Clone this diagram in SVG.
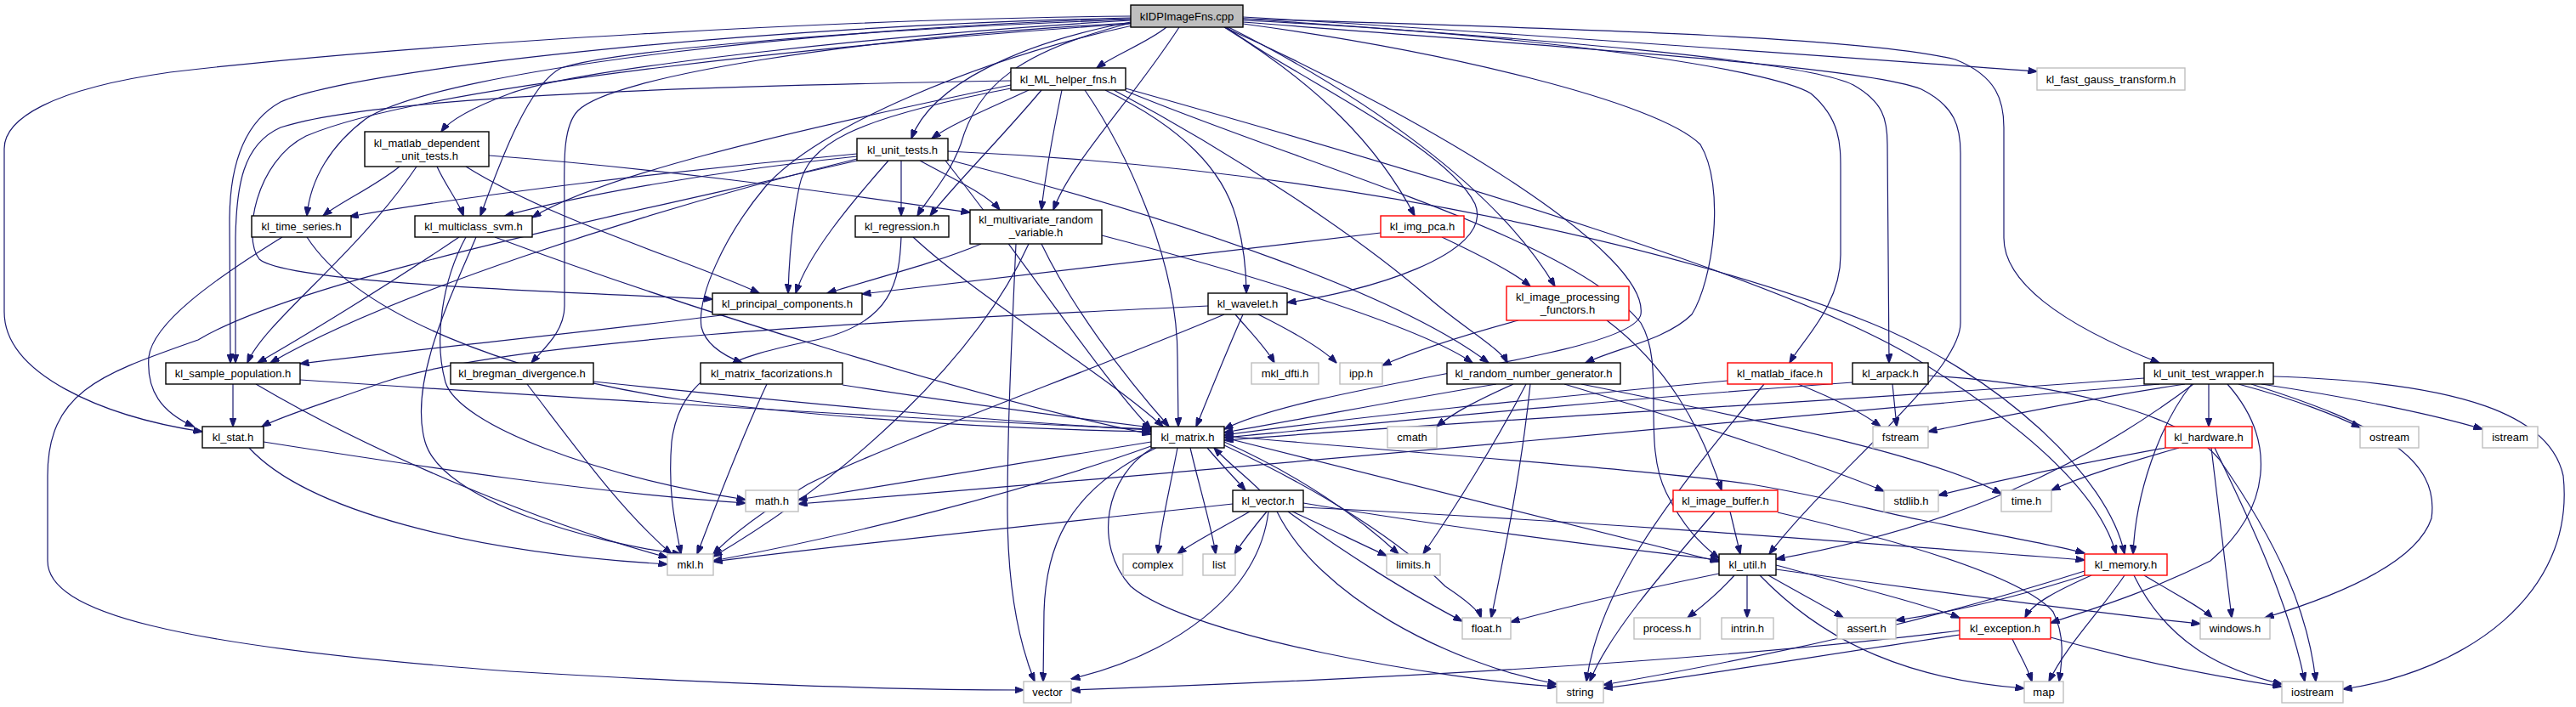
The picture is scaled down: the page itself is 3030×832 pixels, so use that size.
<svg xmlns="http://www.w3.org/2000/svg" width="3030" height="832" viewBox="0 0 3030 832">
<defs>
<marker id="a" markerWidth="11" markerHeight="8" refX="10.5" refY="4" orient="auto" markerUnits="userSpaceOnUse"><path d="M0,0L11,4L0,8z" fill="#191970" stroke="#191970" stroke-width="1"/></marker>
<style>
.e path{fill:none;stroke:#191970;stroke-width:1.2;marker-end:url(#a)}
.node rect{fill:#ffffff;stroke:#000000;stroke-width:1.4}
.node.g rect{stroke:#bfbfbf}
.node.r rect{stroke:#ff0000}
.node.root rect{fill:#bfbfbf}
.node text{font-family:"Liberation Sans",Arial,sans-serif;font-size:13px;text-anchor:middle;fill:#000000}
</style>
</defs>
<rect width="3030" height="832" fill="#ffffff"/>
<g id="edges" class="e">
<!-- root -->
<path d="M1372,32 C1350,50 1310,65 1290,80"/>
<path d="M1462,20 C1800,40 2200,70 2396,84"/>
<path d="M1330,24 C1050,40 680,80 600,110 C560,125 530,140 519,155"/>
<path d="M1330,26 C1200,50 1095,100 1072,163"/>
<path d="M1330,22 C1000,30 520,80 430,140 C390,170 365,210 361,254"/>
<path d="M1330,23 C1000,35 720,60 660,80 C620,100 585,200 565,254"/>
<path d="M1330,27 C1200,60 1150,100 1130,170 C1115,210 1090,235 1079,254"/>
<path d="M1387,32 C1330,120 1260,190 1239,247"/>
<path d="M1440,32 C1550,100 1620,170 1664,254"/>
<path d="M1445,32 C1600,110 1760,220 1829,337"/>
<path d="M1440,30 C1520,90 1700,170 1735,240 C1760,300 1600,345 1514,356"/>
<path d="M1330,21 C900,30 420,80 330,120 C285,145 270,200 270,260 L271,427"/>
<path d="M1330,19 C1000,22 500,50 200,85 C60,105 5,140 5,175 L5,367 C5,440 120,490 238,508"/>
<path d="M1330,27 C1000,45 720,90 680,130 C660,150 664,200 664,250 L664,360 C664,390 640,410 625,427"/>
<path d="M1332,30 C1150,70 960,150 900,220 C850,280 820,350 825,385 C830,405 850,418 873,427"/>
<path d="M1330,28 C1000,50 500,100 360,160 C300,190 285,280 305,305 C340,335 700,345 838,352"/>
<path d="M1462,28 C1700,60 1950,120 2000,170 C2030,220 2015,330 1990,370 C1960,400 1900,410 1865,427"/>
<path d="M1462,24 C1800,40 2080,80 2130,110 C2165,140 2165,170 2165,200 L2165,300 C2165,360 2120,400 2105,427"/>
<path d="M1462,22 C1800,45 2120,70 2180,100 C2215,120 2220,140 2220,170 L2222,427"/>
<path d="M1462,26 C1900,60 2200,80 2260,105 C2300,125 2306,150 2306,180 L2306,380 C2306,440 2150,560 2081,652"/>
<path d="M1462,22 C1900,35 2200,45 2300,70 C2350,90 2357,120 2357,150 L2357,280 C2357,330 2420,380 2540,427"/>
<path d="M1440,32 C1700,150 1940,300 1930,370 C1920,420 1550,450 1440,505"/>
<!-- ML helper -->
<path d="M1210,106 C1170,125 1120,145 1096,163"/>
<path d="M1225,106 C1180,160 1120,220 1094,254"/>
<path d="M1249,106 C1240,150 1230,200 1225,247"/>
<path d="M1276,106 C1320,170 1385,300 1385,420 L1386,502"/>
<path d="M1300,106 C1390,150 1440,200 1455,260 C1463,290 1466,320 1466,345"/>
<path d="M1310,106 C1450,180 1600,280 1680,350 C1720,385 1765,410 1773,427"/>
<path d="M1324,104 C1700,210 2100,330 2250,420 C2380,500 2470,580 2489,652"/>
<path d="M1324,107 C1550,200 1850,280 1930,380 C1960,430 1930,520 1960,580 C1980,620 2000,640 2022,657"/>
<path d="M1189,95 C900,100 450,110 330,150 C285,170 278,220 277,280 L277,427"/>
<path d="M1189,104 C1000,140 950,170 940,220 C930,270 928,310 927,345"/>
<path d="M1189,100 C900,160 700,210 626,256"/>
<!-- unit tests -->
<path d="M1008,181 C800,200 550,230 411,255"/>
<path d="M1008,184 C850,200 680,230 594,254"/>
<path d="M1060,189 L1060,254"/>
<path d="M1082,189 C1120,210 1160,228 1176,247"/>
<path d="M1045,189 C1000,240 950,300 936,345"/>
<path d="M1008,187 C750,250 450,350 318,427"/>
<path d="M1115,188 C1400,260 1650,350 1751,427"/>
<path d="M1115,178 C1600,200 2000,300 2200,380 C2350,440 2480,560 2499,652"/>
<path d="M1008,189 C700,260 350,330 233,400 C120,440 56,460 56,560 L56,660 C56,720 200,760 600,790 C900,808 1100,812 1204,812"/>
<path d="M1112,189 C1200,300 1300,450 1354,505"/>
<!-- matlab dependent -->
<path d="M470,196 C440,220 400,238 380,254"/>
<path d="M514,196 C525,220 540,238 545,254"/>
<path d="M490,196 C420,300 310,380 291,427"/>
<path d="M548,196 C650,260 820,310 893,345"/>
<path d="M575,183 C800,200 1000,230 1141,250"/>
<!-- time series -->
<path d="M332,279 C250,330 180,380 175,420 C172,460 190,485 228,502"/>
<path d="M361,279 C420,370 600,440 800,470 C1000,495 1200,505 1354,508"/>
<!-- multiclass svm -->
<path d="M540,279 C450,340 350,400 303,427"/>
<path d="M582,279 C800,360 1150,470 1354,511"/>
<path d="M548,279 C520,330 510,400 524,450 C540,500 700,560 877,588"/>
<path d="M560,279 C530,350 480,450 500,520 C520,590 700,640 801,652"/>
<!-- regression -->
<path d="M1074,279 C1150,350 1300,440 1368,502"/>
<path d="M1060,279 C1058,330 1050,380 960,400 C860,420 800,440 790,520 C785,580 795,620 801,652"/>
<!-- multivariate -->
<path d="M1154,287 C1100,310 1020,330 973,345"/>
<path d="M1296,277 C1500,330 1680,390 1732,427"/>
<path d="M1225,287 C1260,360 1320,440 1375,502"/>
<path d="M1210,287 C1150,420 1000,560 839,655"/>
<path d="M1195,287 C1190,400 1185,500 1185,600 C1185,700 1200,760 1217,802"/>
<!-- img pca -->
<path d="M1624,274 C1400,300 1200,325 1014,346"/>
<path d="M1696,279 C1740,300 1780,320 1800,337"/>
<!-- principal components -->
<path d="M856,370 C700,390 500,410 353,428"/>
<!-- wavelet -->
<path d="M1421,360 C1000,380 600,400 450,450 C380,475 330,490 308,502"/>
<path d="M1453,370 C1470,390 1490,410 1499,427"/>
<path d="M1480,370 C1520,390 1555,410 1572,427"/>
<path d="M1462,370 C1440,420 1420,470 1407,502"/>
<path d="M1440,370 C1300,430 1050,520 950,570 C900,600 860,630 839,652"/>
<!-- image processing functors -->
<path d="M1786,377 C1720,395 1660,415 1626,430"/>
<path d="M1890,377 C1960,430 2000,500 2025,577"/>
<!-- sample population -->
<path d="M274,452 L274,502"/>
<path d="M353,447 C700,470 1100,495 1354,505"/>
<path d="M301,452 C450,540 650,620 785,656"/>
<!-- stat -->
<path d="M310,520 C500,550 700,580 877,592"/>
<path d="M293,527 C360,600 550,650 785,664"/>
<!-- bregman -->
<path d="M698,449 C900,470 1150,495 1354,506"/>
<path d="M620,452 C680,530 730,600 790,652"/>
<!-- matrix facorizations -->
<path d="M991,453 C1100,470 1250,490 1354,503"/>
<path d="M902,452 C870,520 840,600 820,652"/>
<!-- random number generator -->
<path d="M1760,452 C1650,470 1550,490 1440,509"/>
<path d="M1780,452 C1740,470 1710,485 1690,502"/>
<path d="M1795,452 C1760,520 1710,600 1674,652"/>
<path d="M1800,452 C1790,550 1770,650 1754,727"/>
<path d="M1840,452 C2000,500 2150,550 2216,578"/>
<path d="M1860,452 C2100,500 2280,540 2354,581"/>
<!-- matlab iface -->
<path d="M2032,448 C1800,470 1600,490 1440,512"/>
<path d="M2115,452 C2160,470 2190,485 2212,502"/>
<path d="M2075,452 C1950,600 1880,700 1866,802"/>
<!-- arpack -->
<path d="M2179,450 C1900,470 1650,495 1440,515"/>
<path d="M2226,452 L2231,502"/>
<path d="M2268,442 C2400,450 2560,480 2610,540 C2680,640 2715,720 2724,802"/>
<!-- unit test wrapper -->
<path d="M2522,445 C2200,470 1800,490 1440,518"/>
<path d="M2540,452 C2200,480 1600,540 939,593"/>
<path d="M2570,452 C2450,470 2330,495 2268,508"/>
<path d="M2598,452 L2598,502"/>
<path d="M2633,452 C2700,470 2750,490 2776,503"/>
<path d="M2660,452 C2780,470 2870,490 2920,505"/>
<path d="M2674,443 C2900,450 3000,490 3015,560 C3030,700 2900,790 2756,811"/>
<path d="M2648,452 C2800,500 2870,540 2860,610 C2840,670 2720,710 2664,727"/>
<path d="M2578,452 C2540,500 2512,580 2509,652"/>
<path d="M2620,452 C2680,520 2670,600 2600,660 C2520,700 2450,720 2412,733"/>
<path d="M2580,452 C2450,550 2300,620 2089,658"/>
<!-- hardware -->
<path d="M2547,527 C2450,545 2350,565 2280,583"/>
<path d="M2563,527 C2500,545 2450,560 2413,577"/>
<path d="M2601,527 L2625,727"/>
<path d="M2605,527 C2640,600 2690,700 2711,802"/>
<!-- matrix -->
<path d="M1420,527 C1435,545 1450,560 1465,577"/>
<path d="M1482,577 C1465,560 1445,545 1428,527"/>
<path d="M1354,520 C1200,545 1050,570 939,588"/>
<path d="M1354,525 C1200,580 1000,630 839,660"/>
<path d="M1360,527 C1250,580 1230,650 1228,720 L1227,802"/>
<path d="M1385,527 C1375,580 1365,620 1362,652"/>
<path d="M1400,527 C1410,570 1425,620 1430,652"/>
<path d="M1440,520 C1530,560 1600,610 1645,652"/>
<path d="M1440,524 C1560,580 1650,640 1700,690 C1730,710 1740,720 1742,727"/>
<path d="M1356,527 C1300,560 1285,640 1330,690 C1400,750 1700,800 1831,808"/>
<path d="M1440,515 C1700,580 1900,630 2022,661"/>
<path d="M1440,513 C1750,540 1960,555 2060,570 C2150,585 2200,600 2260,612 C2350,630 2420,642 2452,651"/>
<!-- vector.h -->
<path d="M1450,593 C1200,620 1000,640 839,661"/>
<path d="M1470,602 C1430,625 1400,640 1385,652"/>
<path d="M1490,602 C1475,620 1460,640 1452,652"/>
<path d="M1520,602 C1560,620 1600,640 1631,654"/>
<path d="M1515,602 C1580,650 1660,700 1720,731"/>
<path d="M1502,602 C1550,700 1700,780 1831,805"/>
<path d="M1492,602 C1480,700 1380,770 1260,799"/>
<path d="M1533,592 C1700,620 1900,645 2022,659"/>
<path d="M1533,597 C1900,615 2200,640 2452,659"/>
<!-- image buffer -->
<path d="M2035,602 L2047,652"/>
<path d="M2017,602 C1950,680 1890,750 1870,802"/>
<path d="M2091,603 C2250,640 2380,680 2415,720 C2430,750 2425,780 2422,802"/>
<!-- util -->
<path d="M2022,675 C1900,700 1820,720 1777,732"/>
<path d="M2040,677 C2020,700 2000,715 1985,727"/>
<path d="M2055,677 L2055,727"/>
<path d="M2080,677 C2120,700 2150,715 2168,727"/>
<path d="M2089,665 C2180,690 2260,710 2305,727"/>
<path d="M2089,670 C2300,700 2500,725 2588,734"/>
<path d="M2070,677 C2150,760 2250,800 2381,810"/>
<!-- memory -->
<path d="M2452,677 C2380,700 2300,720 2230,730"/>
<path d="M2460,677 C2420,695 2390,710 2382,727"/>
<path d="M2499,677 C2470,720 2430,760 2410,802"/>
<path d="M2522,677 C2560,700 2590,715 2602,727"/>
<path d="M2510,677 C2550,760 2620,790 2684,805"/>
<path d="M2452,672 C2300,720 2150,760 1886,806"/>
<!-- exception -->
<path d="M2367,752 C2375,770 2385,785 2390,802"/>
<path d="M2412,750 C2500,775 2600,795 2684,808"/>
<path d="M2305,747 C2150,770 2000,795 1886,810"/>
<path d="M2305,742 C2000,780 1600,800 1260,812"/>
</g>
<g id="n_root" class="node root"><rect x="1330" y="6" width="132" height="26"/><text x="1396" y="23.5">kIDPImageFns.cpp</text></g>
<g id="n_ml" class="node"><rect x="1189" y="80" width="135" height="26"/><text x="1256.5" y="97.5">kl_ML_helper_fns.h</text></g>
<g id="n_fgt" class="node g"><rect x="2396" y="80" width="174" height="26"/><text x="2483" y="97.5">kl_fast_gauss_transform.h</text></g>
<g id="n_mdut" class="node"><rect x="429" y="155" width="146" height="41"/><text x="502" y="172.5">kl_matlab_dependent</text><text x="502" y="187.5">_unit_tests.h</text></g>
<g id="n_ut" class="node"><rect x="1008" y="163" width="107" height="26"/><text x="1061.5" y="180.5">kl_unit_tests.h</text></g>
<g id="n_ts" class="node"><rect x="296" y="254" width="117" height="25"/><text x="354.5" y="271">kl_time_series.h</text></g>
<g id="n_svm" class="node"><rect x="488" y="254" width="138" height="25"/><text x="557" y="271">kl_multiclass_svm.h</text></g>
<g id="n_reg" class="node"><rect x="1006" y="254" width="110" height="25"/><text x="1061" y="271">kl_regression.h</text></g>
<g id="n_mrv" class="node"><rect x="1141" y="247" width="155" height="40"/><text x="1218.5" y="263">kl_multivariate_random</text><text x="1218.5" y="278">_variable.h</text></g>
<g id="n_pca" class="node r"><rect x="1624" y="254" width="98" height="25"/><text x="1673" y="271">kl_img_pca.h</text></g>
<g id="n_pc" class="node"><rect x="838" y="345" width="176" height="25"/><text x="926" y="362">kl_principal_components.h</text></g>
<g id="n_wav" class="node"><rect x="1421" y="345" width="93" height="25"/><text x="1467.5" y="362">kl_wavelet.h</text></g>
<g id="n_ipf" class="node r"><rect x="1772" y="337" width="144" height="40"/><text x="1844" y="353.5">kl_image_processing</text><text x="1844" y="368.5">_functors.h</text></g>
<g id="n_sp" class="node"><rect x="195" y="427" width="158" height="25"/><text x="274" y="444">kl_sample_population.h</text></g>
<g id="n_bd" class="node"><rect x="530" y="427" width="168" height="25"/><text x="614" y="444">kl_bregman_divergence.h</text></g>
<g id="n_mf" class="node"><rect x="824" y="427" width="167" height="25"/><text x="907.5" y="444">kl_matrix_facorizations.h</text></g>
<g id="n_dfti" class="node g"><rect x="1472" y="427" width="79" height="25"/><text x="1511.5" y="444">mkl_dfti.h</text></g>
<g id="n_ipp" class="node g"><rect x="1576" y="427" width="50" height="25"/><text x="1601" y="444">ipp.h</text></g>
<g id="n_rng" class="node"><rect x="1702" y="427" width="204" height="25"/><text x="1804" y="444">kl_random_number_generator.h</text></g>
<g id="n_mi" class="node r"><rect x="2032" y="427" width="123" height="25"/><text x="2093.5" y="444">kl_matlab_iface.h</text></g>
<g id="n_arp" class="node"><rect x="2179" y="427" width="89" height="25"/><text x="2223.5" y="444">kl_arpack.h</text></g>
<g id="n_utw" class="node"><rect x="2522" y="427" width="152" height="25"/><text x="2598" y="444">kl_unit_test_wrapper.h</text></g>
<g id="n_stat" class="node"><rect x="238" y="502" width="72" height="25"/><text x="274" y="519">kl_stat.h</text></g>
<g id="n_mat" class="node"><rect x="1354" y="502" width="86" height="25"/><text x="1397" y="519">kl_matrix.h</text></g>
<g id="n_cmath" class="node g"><rect x="1632" y="502" width="58" height="25"/><text x="1661" y="519">cmath</text></g>
<g id="n_fstream" class="node g"><rect x="2203" y="502" width="65" height="25"/><text x="2235.5" y="519">fstream</text></g>
<g id="n_hw" class="node r"><rect x="2547" y="502" width="102" height="25"/><text x="2598" y="519">kl_hardware.h</text></g>
<g id="n_ostream" class="node g"><rect x="2776" y="502" width="69" height="25"/><text x="2810.5" y="519">ostream</text></g>
<g id="n_istream" class="node g"><rect x="2920" y="502" width="65" height="25"/><text x="2952.5" y="519">istream</text></g>
<g id="n_math" class="node g"><rect x="877" y="577" width="62" height="25"/><text x="908" y="594">math.h</text></g>
<g id="n_vec" class="node"><rect x="1450" y="577" width="83" height="25"/><text x="1491.5" y="594">kl_vector.h</text></g>
<g id="n_ib" class="node r"><rect x="1968" y="577" width="123" height="25"/><text x="2029.5" y="594">kl_image_buffer.h</text></g>
<g id="n_stdlib" class="node g"><rect x="2216" y="577" width="64" height="25"/><text x="2248" y="594">stdlib.h</text></g>
<g id="n_time" class="node g"><rect x="2354" y="577" width="59" height="25"/><text x="2383.5" y="594">time.h</text></g>
<g id="n_mkl" class="node g"><rect x="785" y="652" width="54" height="25"/><text x="812" y="669">mkl.h</text></g>
<g id="n_complex" class="node g"><rect x="1321" y="652" width="70" height="25"/><text x="1356" y="669">complex</text></g>
<g id="n_list" class="node g"><rect x="1415" y="652" width="38" height="25"/><text x="1434" y="669">list</text></g>
<g id="n_limits" class="node g"><rect x="1631" y="652" width="63" height="25"/><text x="1662.5" y="669">limits.h</text></g>
<g id="n_util" class="node"><rect x="2022" y="652" width="67" height="25"/><text x="2055.5" y="669">kl_util.h</text></g>
<g id="n_mem" class="node r"><rect x="2452" y="652" width="97" height="25"/><text x="2500.5" y="669">kl_memory.h</text></g>
<g id="n_float" class="node g"><rect x="1720" y="727" width="57" height="25"/><text x="1748.5" y="744">float.h</text></g>
<g id="n_process" class="node g"><rect x="1922" y="727" width="78" height="25"/><text x="1961" y="744">process.h</text></g>
<g id="n_intrin" class="node g"><rect x="2025" y="727" width="61" height="25"/><text x="2055.5" y="744">intrin.h</text></g>
<g id="n_assert" class="node g"><rect x="2161" y="727" width="69" height="25"/><text x="2195.5" y="744">assert.h</text></g>
<g id="n_exc" class="node r"><rect x="2305" y="727" width="107" height="25"/><text x="2358.5" y="744">kl_exception.h</text></g>
<g id="n_win" class="node g"><rect x="2588" y="727" width="82" height="25"/><text x="2629" y="744">windows.h</text></g>
<g id="n_vector" class="node g"><rect x="1204" y="802" width="56" height="25"/><text x="1232" y="819">vector</text></g>
<g id="n_string" class="node g"><rect x="1831" y="802" width="55" height="25"/><text x="1858.5" y="819">string</text></g>
<g id="n_map" class="node g"><rect x="2381" y="802" width="46" height="25"/><text x="2404" y="819">map</text></g>
<g id="n_iostream" class="node g"><rect x="2684" y="802" width="72" height="25"/><text x="2720" y="819">iostream</text></g>
</svg>
